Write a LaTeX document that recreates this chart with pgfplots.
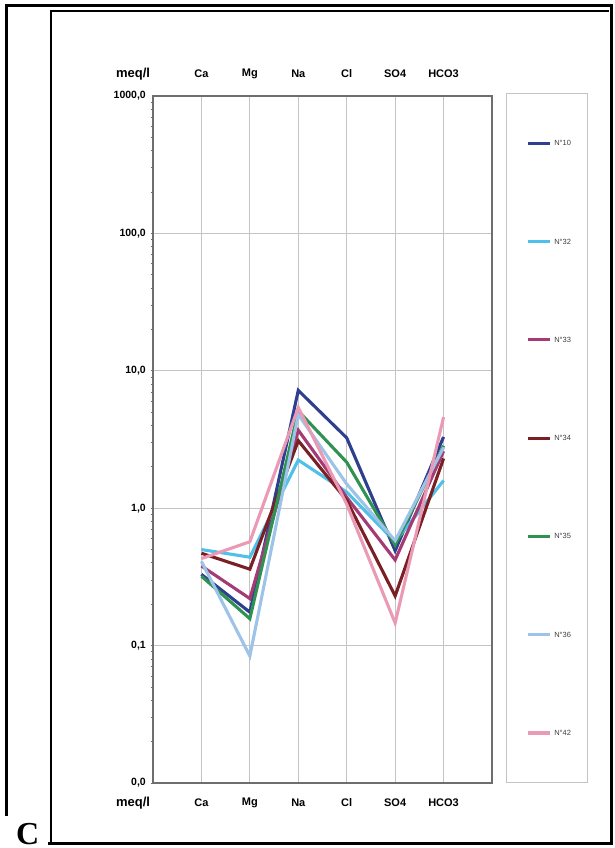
\documentclass[border=0pt]{standalone}
\usepackage{pgfplots}
\pgfplotsset{compat=1.18}
\usepackage{fontspec}
\setmainfont{Liberation Sans}
\newfontfamily\serifC{Liberation Serif}
\definecolor{cTen}{HTML}{2E3F8F}
\definecolor{cTtwo}{HTML}{4FC1E8}
\definecolor{cTthree}{HTML}{A53A74}
\definecolor{cTfour}{HTML}{7A1F24}
\definecolor{cTfive}{HTML}{2F9152}
\definecolor{cTsix}{HTML}{9DC3E8}
\definecolor{cFtwo}{HTML}{EA9AB5}
\definecolor{gridc}{HTML}{C4C4C4}
\definecolor{spine}{HTML}{6E6E6E}
\begin{document}
\begin{tikzpicture}[x=1pt,y=1pt]
\useasboundingbox (0,0) rectangle (614,848);
% frames
\draw[line width=3pt,black] (6,32) -- (6,842) -- (611,842) -- (611,4) -- (48,4);
\draw[line width=1.2pt,black] (51,4) -- (51,837) -- (609,837);
\node[font=\serifC\bfseries\fontsize{32}{32}\selectfont, anchor=base west, inner sep=0pt] at (16,4) {C};
% legend box
\draw[color=gridc, line width=1pt] (506,65) rectangle (587,754);
\begin{axis}[
  at={(153pt,65pt)}, anchor=south west,
  scale only axis, width=339pt, height=687pt,
  xmin=-1, xmax=6,
  ymode=log, ymin=0.01, ymax=1000,
  xtick={0,1,2,3,4,5},
  xticklabels={Ca,Mg,Na,Cl,SO4,HCO3},
  ytick={0.01,0.1,1,10,100,1000},
  yticklabels={0{,}0,0{,}1,1{,}0,10{,}0,100{,}0,1000{,}0},
  xticklabel style={font=\bfseries\fontsize{11}{12}\selectfont, anchor=center, yshift=-20pt, inner sep=0pt},
  yticklabel style={font=\bfseries\fontsize{10.5}{11}\selectfont, anchor=east, inner sep=0pt, xshift=-7pt},
  major tick length=0pt,
  minor tick length=2.5pt,
  tick align=outside,
  ytick pos=left, xtick pos=bottom,
  xmajorgrids, ymajorgrids,
  major grid style={color=gridc, line width=1pt},
  axis line style={color=spine, line width=1.3pt},
  minor tick style={color=spine, line width=0.8pt},
  every axis plot/.append style={line width=3.1pt, line join=miter, mark=none},
  clip=false,
  legend image code/.code={\draw[#1] (0pt,0pt) -- (22pt,0pt);},
  legend style={at={(axis description cs:1.1003,0.9352)}, anchor=north west,
    draw=none, fill=none, inner sep=0pt, row sep=93.3pt, column sep=3pt,
    nodes={inner sep=0pt, text height=5pt, text depth=0pt, font=\fontsize{7.5}{7.5}\selectfont, text=black!75}},
  legend cell align=left,
]
\addplot[cTen] coordinates {(0,0.33) (1,0.175) (2,7.2) (3,3.25) (4,0.49) (5,3.3)};
\addlegendentry{N°10}
\addplot[cTtwo] coordinates {(0,0.50) (1,0.44) (2,2.24) (3,1.31) (4,0.57) (5,1.59)};
\addlegendentry{N°32}
\addplot[cTthree] coordinates {(0,0.38) (1,0.22) (2,3.7) (3,1.2) (4,0.42) (5,2.6)};
\addlegendentry{N°33}
\addplot[cTfour] coordinates {(0,0.47) (1,0.36) (2,3.1) (3,1.14) (4,0.23) (5,2.3)};
\addlegendentry{N°34}
\addplot[cTfive] coordinates {(0,0.32) (1,0.157) (2,5.1) (3,2.16) (4,0.54) (5,2.85)};
\addlegendentry{N°35}
\addplot[cTsix] coordinates {(0,0.41) (1,0.084) (2,4.8) (3,1.5) (4,0.58) (5,2.77)};
\addlegendentry{N°36}
\addplot[cFtwo] coordinates {(0,0.43) (1,0.57) (2,5.4) (3,1.07) (4,0.146) (5,4.6)};
\addlegendentry{N°42}
% top category labels
\foreach \i/\lab in {0/Ca,1/Mg,2/Na,3/Cl,4/SO4,5/HCO3}{
  \edef\tmp{\noexpand\node[font=\noexpand\bfseries\noexpand\fontsize{11}{12}\noexpand\selectfont, inner sep=0pt] at (axis cs:\i,1000) [yshift=22pt] {\lab};}\tmp
}
\end{axis}
\node[font=\bfseries\fontsize{13}{14}\selectfont, inner sep=0pt] at (133,774) {meq/l};
\node[font=\bfseries\fontsize{13}{14}\selectfont, inner sep=0pt] at (133,45) {meq/l};
\end{tikzpicture}
\end{document}
